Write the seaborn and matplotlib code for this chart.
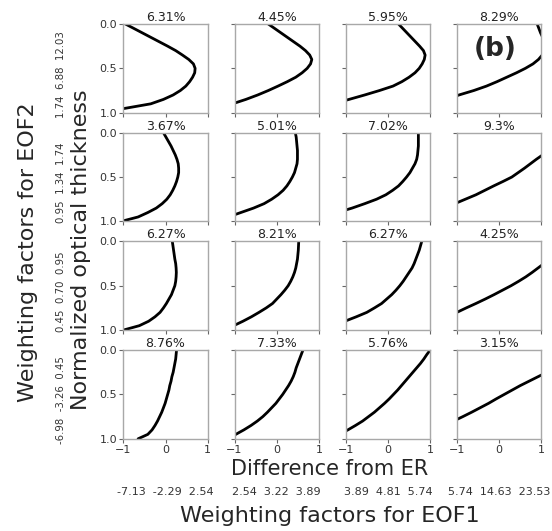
import numpy as np
import pandas as pd
import matplotlib
matplotlib.use("Agg")
import matplotlib.pyplot as plt
import seaborn as sns

# ---------------- data ----------------
depth = [0.00, 0.05, 0.10, 0.15, 0.20, 0.25, 0.30, 0.35, 0.40, 0.45, 0.50,
         0.55, 0.60, 0.65, 0.70, 0.75, 0.80, 0.85, 0.90, 0.95, 1.00]

r1c1 = [-0.95, -0.75, -0.55, -0.35, -0.15, 0.05, 0.24, 0.40, 0.55, 0.66, 0.70,
        0.69, 0.64, 0.57, 0.48, 0.35, 0.18, -0.05, -0.35, -0.95, -1.60]
r1c2 = [-0.20, -0.05, 0.10, 0.25, 0.40, 0.55, 0.68, 0.78, 0.83, 0.80, 0.72,
        0.60, 0.45, 0.25, 0.03, -0.20, -0.45, -0.73, -1.05, -1.35, -1.70]
r1c3 = [0.25, 0.35, 0.45, 0.55, 0.65, 0.75, 0.84, 0.88, 0.86, 0.81, 0.74,
        0.64, 0.50, 0.33, 0.12, -0.20, -0.55, -0.92, -1.30, -1.65, -2.00]
r1c4 = [0.90, 0.94, 0.98, 1.03, 1.06, 1.07, 1.06, 1.02, 0.93, 0.80, 0.62,
        0.41, 0.18, -0.05, -0.30, -0.60, -0.95, -1.25, -1.60, -1.95, -2.30]

r2c1 = [-0.05, 0.01, 0.07, 0.13, 0.18, 0.23, 0.27, 0.30, 0.31, 0.31, 0.29,
        0.26, 0.22, 0.17, 0.11, 0.03, -0.08, -0.22, -0.42, -0.65, -1.05]
r2c2 = [0.44, 0.46, 0.47, 0.48, 0.49, 0.49, 0.49, 0.48, 0.45, 0.42, 0.37,
        0.31, 0.24, 0.15, 0.03, -0.12, -0.30, -0.55, -0.85, -1.15, -1.50]
r2c3 = [0.72, 0.72, 0.72, 0.72, 0.71, 0.70, 0.68, 0.64, 0.58, 0.52, 0.44,
        0.35, 0.25, 0.11, -0.05, -0.27, -0.55, -0.85, -1.20, -1.55, -1.90]
r2c4 = [1.65, 1.52, 1.40, 1.29, 1.18, 1.03, 0.88, 0.74, 0.60, 0.45, 0.30,
        0.09, -0.13, -0.34, -0.55, -0.80, -1.05, -1.32, -1.60, -1.90, -2.20]

r3c1 = [0.16, 0.175, 0.19, 0.205, 0.22, 0.24, 0.25, 0.255, 0.25, 0.24, 0.22,
        0.18, 0.14, 0.08, 0.02, -0.05, -0.13, -0.25, -0.40, -0.62, -1.00]
r3c2 = [0.52, 0.515, 0.51, 0.50, 0.49, 0.47, 0.45, 0.42, 0.38, 0.33, 0.27,
        0.19, 0.10, 0.00, -0.10, -0.25, -0.42, -0.60, -0.80, -1.02, -1.30]
r3c3 = [0.80, 0.77, 0.74, 0.70, 0.66, 0.62, 0.57, 0.50, 0.43, 0.36, 0.28,
        0.19, 0.09, -0.03, -0.15, -0.32, -0.50, -0.75, -1.02, -1.30, -1.60]
r3c4 = [1.70, 1.57, 1.45, 1.33, 1.20, 1.06, 0.92, 0.78, 0.63, 0.46, 0.28,
        0.08, -0.12, -0.33, -0.55, -0.78, -1.00, -1.25, -1.50, -1.75, -2.00]

r4c1 = [0.26, 0.25, 0.24, 0.22, 0.20, 0.18, 0.15, 0.13, 0.10, 0.08, 0.05,
        0.02, -0.01, -0.05, -0.09, -0.14, -0.19, -0.25, -0.32, -0.42, -0.65]
r4c2 = [0.62, 0.58, 0.54, 0.50, 0.46, 0.43, 0.39, 0.34, 0.28, 0.21, 0.14,
        0.06, -0.02, -0.12, -0.22, -0.33, -0.46, -0.61, -0.78, -0.97, -1.20]
r4c3 = [1.00, 0.92, 0.85, 0.77, 0.68, 0.59, 0.50, 0.41, 0.32, 0.23, 0.13,
        0.03, -0.08, -0.20, -0.32, -0.46, -0.60, -0.77, -0.95, -1.15, -1.35]
r4c4 = [2.30, 2.05, 1.80, 1.57, 1.35, 1.13, 0.92, 0.71, 0.50, 0.31, 0.12,
        -0.07, -0.25, -0.45, -0.65, -0.86, -1.08, -1.29, -1.50, -1.70, -1.90]

titles = ["6.31%", "4.45%", "5.95%", "8.29%",
          "3.67%", "5.01%", "7.02%", "9.3%",
          "6.27%", "8.21%", "6.27%", "4.25%",
          "8.76%", "7.33%", "5.76%", "3.15%"]

eof1_labels = ["-7.13  -2.29  2.54", "2.54  3.22  3.89",
               "3.89  4.81  5.74", "5.74  14.63  23.53"]
eof2_labels = ["1.74  6.88  12.03", "0.95  1.34  1.74",
               "0.45  0.70  0.95", "-6.98  -3.26  0.45"]

x_ticks = [-1, 0, 1]
y_ticks = [0.0, 0.5, 1.0]

curves = [r1c1, r1c2, r1c3, r1c4, r2c1, r2c2, r2c3, r2c4,
          r3c1, r3c2, r3c3, r3c4, r4c1, r4c2, r4c3, r4c4]

# ---------------- layout ----------------
sns.set_style("ticks")
plt.rcParams["font.family"] = ["DejaVu Sans"]

W, H = 552, 531
fig = plt.figure(figsize=(W / 100, H / 100), dpi=100)

col_left0, col_step, ax_w = 123.3, 111.2, 84.5
row_top0, row_step, ax_h = 24.0, 108.7, 88.7

spine_c = "#a8a8a8"
for i in range(16):
    r, c = divmod(i, 4)
    left = col_left0 + c * col_step
    top = row_top0 + r * row_step
    ax = fig.add_axes([left / W, 1 - (top + ax_h) / H, ax_w / W, ax_h / H])
    df = pd.DataFrame({"diff": curves[i], "depth": depth})
    sns.lineplot(data=df, x="diff", y="depth", orient="y", estimator=None,
                 color="black", lw=2.0, ax=ax)
    ax.set_xlim(-1, 1)
    ax.set_ylim(1, 0)
    ax.set_xticks(x_ticks)
    ax.set_yticks(y_ticks)
    ax.set_xlabel("")
    ax.set_ylabel("")
    for s in ax.spines.values():
        s.set_color(spine_c)
        s.set_linewidth(1.0)
    ax.tick_params(length=3, width=0.8, color="#666666", labelsize=8,
                   labelcolor="#333333", pad=1.5)
    if c != 0:
        ax.set_yticklabels([])
    else:
        ax.set_yticklabels(["0.0", "0.5", "1.0"])
    if r != 3:
        ax.set_xticklabels([])
    else:
        ax.set_xticklabels(["\u22121", "0", "1"])
    ax.set_title(titles[i], fontsize=9, color="#222222", pad=2)
    if i == 3:
        ax.text(0.45, 0.72, "(b)", transform=ax.transAxes, fontsize=19,
                fontweight="bold", ha="center", va="center")

# column / row weighting labels
for c in range(4):
    xc = col_left0 + c * col_step + ax_w / 2
    fig.text(xc / W, 1 - 492 / H, eof1_labels[c], fontsize=8, color="#333333",
             ha="center", va="center")
for r in range(4):
    yc = row_top0 + r * row_step + ax_h / 2 + 6
    fig.text(61 / W, 1 - yc / H, eof2_labels[r], fontsize=7.3, color="#333333",
             ha="center", va="center", rotation=90)

fig.text(330 / W, 1 - 469 / H, "Difference from ER", fontsize=15,
         ha="center", va="center")
fig.text(330 / W, 1 - 516 / H, "Weighting factors for EOF1", fontsize=16,
         ha="center", va="center")
fig.text(28 / W, 1 - 252 / H, "Weighting factors for EOF2", fontsize=16,
         ha="center", va="center", rotation=90)
fig.text(81 / W, 1 - 250 / H, "Normalized optical thickness", fontsize=16,
         ha="center", va="center", rotation=90)

fig.savefig("out.png", dpi=100)
